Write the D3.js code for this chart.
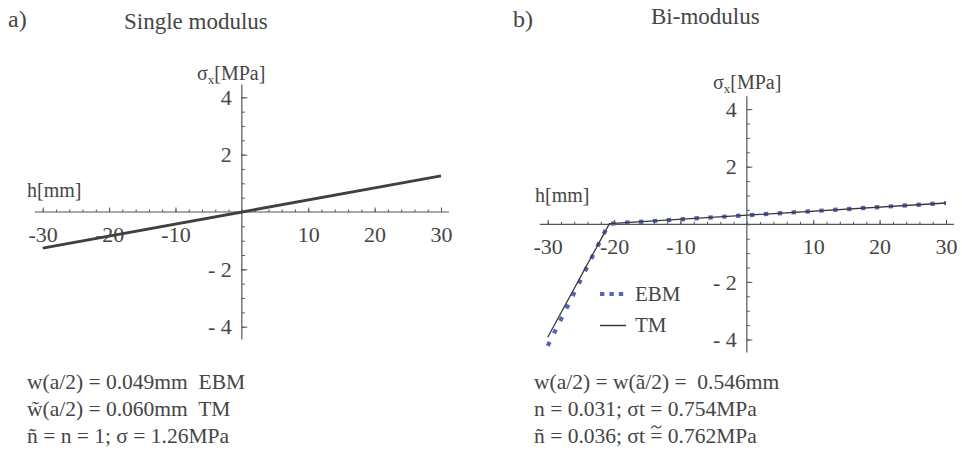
<!DOCTYPE html>
<html>
<head>
<meta charset="utf-8">
<script src="https://cdn.jsdelivr.net/npm/d3@7"></script>
<style>
  body { margin: 0; background: #fff; }
  svg text { font-family: "Liberation Serif", "DejaVu Serif", serif; fill: #454545; white-space: pre; }
  .axis path { display: none; }
  .axis line { stroke: #555; }
  .lbl .tick line { display: none; }
  .lbl text { font-size: 22px; fill: #454545; }
</style>
</head>
<body>
<script>
// ---- data ----
var hMajor = [-30, -20, -10, 10, 20, 30];
var hMinor = d3.range(-30, 31, 2);
var sMajor = [-4, -2, 2, 4];
var sMinor = d3.range(-4, 4.01, 0.5);
var hLabels = ["-30", "-20", "-10", "10", "20", "30"];
var sLabels = ["- 4", "- 2", "2", "4"];

// panel a: single modulus
var singleH = [-30, 30];
var singleSigma = [-1.26, 1.26];

// panel b: bi-modulus
var ebmH = [-30, -20.8, 30];
var ebmSigma = [-4.22, 0.02, 0.74];
var tmH = [-30, -20.7, 30];
var tmSigma = [-3.92, 0.02, 0.74];

var notesA = ["w(a/2) = 0.049mm  EBM", "w\u0303(a/2) = 0.060mm  TM", "ñ = n = 1; σ = 1.26MPa"];
var notesB = ["w(a/2) = w(ã/2) =  0.546mm", "n = 0.031; σt = 0.754MPa", "ñ = 0.036; σt = 0.762MPa"];

var svg = d3.select("body").append("svg")
  .attr("width", 962).attr("height", 454)
  .attr("font-family", "Liberation Serif");

function panel(o) {
  var g = svg.append("g");
  var x = d3.scaleLinear().domain([-30, 30]).range(o.xr);
  var y = d3.scaleLinear().domain([-4, 4]).range(o.yr);

  g.append("text").attr("x", o.tag[0]).attr("y", o.tag[1])
    .style("font-size", "24px").text(o.tagText);
  g.append("text").attr("x", o.title[0]).attr("y", o.title[1])
    .style("font-size", "23px").text(o.titleText);

  // axis lines, slightly longer than the tick range
  g.append("line").attr("x1", x(-31.2)).attr("x2", x(31.2))
    .attr("y1", y(0)).attr("y2", y(0)).attr("stroke", "#555").attr("stroke-width", 1.2);
  g.append("line").attr("x1", x(0)).attr("x2", x(0))
    .attr("y1", y(4.45)).attr("y2", y(-4.45)).attr("stroke", "#555").attr("stroke-width", 1.2);

  // x ticks (upward)
  g.append("g").attr("class", "axis").attr("transform", "translate(0," + y(0) + ")")
    .call(d3.axisTop(x).tickValues(hMinor).tickSize(2.5).tickFormat(""));
  g.append("g").attr("class", "axis").attr("transform", "translate(0," + y(0) + ")")
    .call(d3.axisTop(x).tickValues(hMajor).tickSize(4.5).tickFormat(""));
  g.append("g").attr("class", "axis lbl").attr("transform", "translate(0," + (y(0) + 30) + ")")
    .call(d3.axisBottom(x).tickValues(hMajor).tickSize(0).tickPadding(0)
      .tickFormat(function(d, i) { return hLabels[i]; }))
    .selectAll("text").attr("dy", 0);

  // y ticks (to the right)
  g.append("g").attr("class", "axis").attr("transform", "translate(" + x(0) + ",0)")
    .call(d3.axisRight(y).tickValues(sMinor).tickSize(3).tickFormat(""));
  g.append("g").attr("class", "axis").attr("transform", "translate(" + x(0) + ",0)")
    .call(d3.axisRight(y).tickValues(sMajor).tickSize(5.5).tickFormat(""));
  g.append("g").attr("class", "axis lbl").attr("transform", "translate(" + (x(0) - 10) + ",0)")
    .call(d3.axisLeft(y).tickValues(sMajor).tickSize(0).tickPadding(0)
      .tickFormat(function(d, i) { return sLabels[i]; }))
    .selectAll("text").attr("dy", "0.33em");

  // axis titles
  var st = g.append("text").attr("x", o.sLab[0]).attr("y", o.sLab[1]).style("font-size", "20px");
  st.append("tspan").text("σ");
  st.append("tspan").attr("dy", 4).style("font-size", "13px").text("x");
  st.append("tspan").attr("dy", -4).text("[MPa]");
  g.append("text").attr("x", o.hLab[0]).attr("y", o.hLab[1])
    .style("font-size", "20px").text("h[mm]");

  // notes
  var notes = g.selectAll("text.note").data(o.notes).enter().append("text")
    .attr("class", "note")
    .attr("x", o.noteX)
    .attr("y", function(d, i) { return 389 + i * 27; })
    .style("font-size", "21.5px")
    .text(function(d) { return d; });

  return { g: g, x: x, y: y, notes: notes };
}

var a = panel({
  xr: [42.7, 441], yr: [326.7, 97.3],
  tag: [8, 27], tagText: "a)",
  title: [124, 29], titleText: "Single modulus",
  sLab: [197, 80], hLab: [27, 197],
  notes: notesA, noteX: 27
});

var lineA = d3.line()
  .x(function(d) { return a.x(d); })
  .y(function(d, i) { return a.y(singleSigma[i]); });
a.g.append("path").attr("d", lineA(singleH))
  .attr("fill", "none").attr("stroke", "#404040").attr("stroke-width", 3);

var b = panel({
  xr: [547.7, 946], yr: [339.5, 109.1],
  tag: [513, 27], tagText: "b)",
  title: [651, 24], titleText: "Bi-modulus",
  sLab: [713, 89], hLab: [535, 202],
  notes: notesB, noteX: 534
});

// small tilde drawn above the "=" of the last note in panel b
var last = b.notes.nodes()[2];
var eq = notesB[2].lastIndexOf("=");
var p0 = last.getStartPositionOfChar(eq), p1 = last.getEndPositionOfChar(eq);
var tx = (p0.x + p1.x) / 2, ty = p0.y - 16;
b.g.append("path")
  .attr("d", "M" + (tx - 5) + "," + (ty + 1.5) + " C" + (tx - 3) + "," + (ty - 2.5) + " " +
    (tx - 1) + "," + (ty - 1) + " " + tx + "," + ty + " S" + (tx + 3) + "," + (ty + 2) + " " +
    (tx + 5) + "," + (ty - 1.5))
  .attr("fill", "none").attr("stroke", "#454545").attr("stroke-width", 1.1);

var ebmLine = d3.line()
  .x(function(d) { return b.x(d); })
  .y(function(d, i) { return b.y(ebmSigma[i]); });
var tmLine = d3.line()
  .x(function(d) { return b.x(d); })
  .y(function(d, i) { return b.y(tmSigma[i]); });

b.g.append("path").attr("d", ebmLine(ebmH))
  .attr("fill", "none").attr("stroke", "#5365b8").attr("stroke-width", 4.2)
  .attr("stroke-dasharray", "4.4 9.5");
b.g.append("path").attr("d", tmLine(tmH))
  .attr("fill", "none").attr("stroke", "#383838").attr("stroke-width", 1.3);

// legend
var leg = b.g.append("g");
leg.append("line").attr("x1", 600).attr("x2", 627).attr("y1", 294).attr("y2", 294)
  .attr("stroke", "#5365b8").attr("stroke-width", 4.2).attr("stroke-dasharray", "4.4 5");
leg.append("text").attr("x", 635).attr("y", 301).style("font-size", "21px").text("EBM");
leg.append("line").attr("x1", 600).attr("x2", 626).attr("y1", 325.5).attr("y2", 325.5)
  .attr("stroke", "#383838").attr("stroke-width", 1.5);
leg.append("text").attr("x", 635).attr("y", 332).style("font-size", "21px").text("TM");
</script>
</body>
</html>
